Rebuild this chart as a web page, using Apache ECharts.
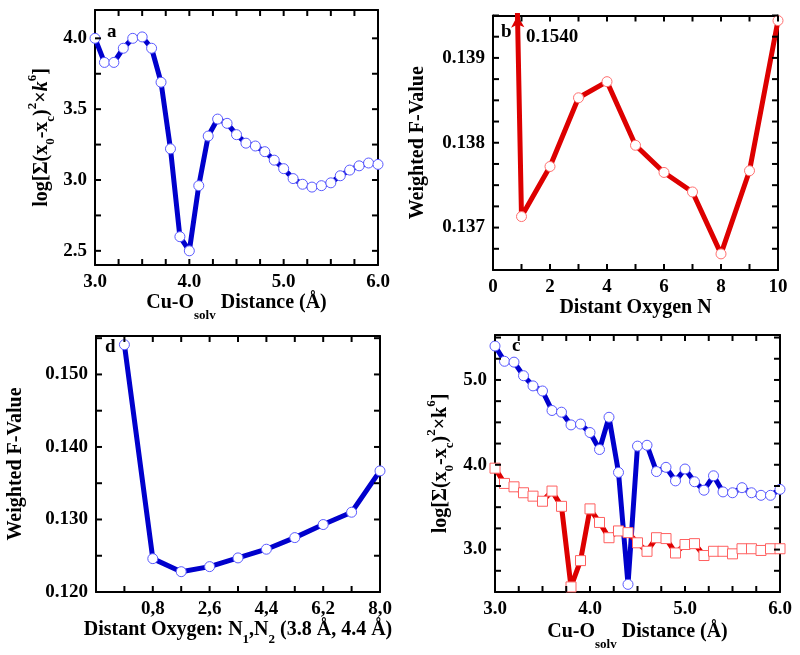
<!DOCTYPE html>
<html>
<head>
<meta charset="utf-8">
<script src="https://cdn.jsdelivr.net/npm/echarts@6/dist/echarts.min.js"></script>
<style>html,body{margin:0;padding:0;background:#fff}#c{width:800px;height:655px}</style>
</head>
<body>
<div id="c"></div>
<script>
// ---------- data ----------
const distA = [3.0,3.1,3.2,3.3,3.4,3.5,3.6,3.7,3.8,3.9,4.0,4.1,4.2,4.3,4.4,4.5,4.6,4.7,4.8,4.9,5.0,5.1,5.2,5.3,5.4,5.5,5.6,5.7,5.8,5.9,6.0];
const logA  = [4.00,3.83,3.83,3.93,4.00,4.01,3.93,3.69,3.22,2.60,2.50,2.96,3.31,3.43,3.40,3.32,3.26,3.24,3.20,3.14,3.08,3.01,2.97,2.95,2.96,2.98,3.03,3.07,3.10,3.12,3.11];

const nB = [0,1,2,3,4,5,6,7,8,9,10];
const fB = [0.1540,0.13713,0.13772,0.13853,0.13872,0.13797,0.13765,0.13742,0.13669,0.13767,0.13944];

const nD = [-0.1,0.8,1.7,2.6,3.5,4.4,5.3,6.2,7.1,8.0];
const fD = [0.1541,0.1246,0.1228,0.1235,0.1247,0.1259,0.1275,0.1293,0.1310,0.1367];

const distC = [3.0,3.1,3.2,3.3,3.4,3.5,3.6,3.7,3.8,3.9,4.0,4.1,4.2,4.3,4.4,4.5,4.6,4.7,4.8,4.9,5.0,5.1,5.2,5.3,5.4,5.5,5.6,5.7,5.8,5.9,6.0];
const logCBlue = [5.40,5.22,5.21,5.05,4.93,4.87,4.64,4.62,4.47,4.48,4.38,4.18,4.56,3.91,2.59,4.22,4.23,3.92,3.97,3.81,3.95,3.80,3.70,3.87,3.68,3.67,3.73,3.67,3.64,3.64,3.71];
const logCRed  = [3.96,3.78,3.74,3.67,3.63,3.57,3.69,3.51,2.56,2.87,3.48,3.32,3.14,3.22,3.20,3.08,2.98,3.14,3.13,2.96,3.06,3.07,2.93,2.98,2.98,2.95,3.01,3.01,2.99,3.01,3.01];

// tick labels
const labA_x = [3.0,4.0,5.0,6.0];
const labA_y = [2.5,3.0,3.5,4.0];
const labB_x = [0,2,4,6,8,10];
const labB_y = [0.137,0.138,0.139];
const labD_x = [0.8,2.6,4.4,6.2,8.0];
const labD_y = [0.120,0.130,0.140,0.150];
const labC_x = [3.0,4.0,5.0,6.0];
const labC_y = [3.0,4.0,5.0];

// ---------- helpers ----------
const FONT = "'Liberation Serif','Times New Roman',Times,serif";
function steps(a, b, s) { const out = []; const n = Math.round((b - a) / s); for (let i = 0; i <= n; i++) out.push(+(a + i * s).toFixed(6)); return out; }

const TICKS = [
  { x: steps(3.0, 6.0, 0.25), y: steps(2.5, 4.0, 0.25) },
  { x: steps(0, 10, 1), y: steps(0.1365, 0.1395, 0.00025) },
  { x: steps(-1.0, 8.0, 0.9), y: steps(0.120, 0.155, 0.005) },
  { x: steps(3.0, 6.0, 0.25), y: steps(2.5, 5.5, 0.25) }
];

const RANGES = [
  { x: [3.0, 6.0], y: [2.4, 4.2] },        // a
  { x: [0, 10], y: [0.1365, 0.1395] },     // b
  { x: [-1.0, 8.0], y: [0.120, 0.1553] },  // d
  { x: [3.0, 6.0], y: [2.5, 5.53] }        // c
];

function nameStyle(L) {
  return {
    fontFamily: FONT, fontSize: 20, fontWeight: 'bold', color: '#000',
    rich: {
      m:   { fontFamily: FONT, fontSize: 20, fontWeight: 'bold', color: '#000', lineHeight: L },
      it:  { fontFamily: FONT, fontSize: 20, fontWeight: 'bold', fontStyle: 'italic', color: '#000', lineHeight: L },
      sub: { fontFamily: FONT, fontSize: 13, fontWeight: 'bold', color: '#000', lineHeight: 13, verticalAlign: 'bottom' },
      sup: { fontFamily: FONT, fontSize: 13, fontWeight: 'bold', color: '#000', lineHeight: 13, verticalAlign: 'top' }
    }
  };
}

function axis(grid, pos, range, labels, fmt, showLabel, name, nameGap, L) {
  const a = {
    type: 'value', gridIndex: grid, position: pos, min: range[0], max: range[1],
    axisLine: { show: true, onZero: false, lineStyle: { color: '#000', width: 2 } },
    axisTick: { show: false },
    axisLabel: { show: showLabel, customValues: labels, formatter: fmt, fontFamily: FONT, fontSize: 19, fontWeight: 'bold', color: '#000', margin: 8 },
    splitLine: { show: false }
  };
  if (name) {
    a.name = name; a.nameLocation = 'middle'; a.nameGap = nameGap;
    a.nameTextStyle = nameStyle(L);
    if (pos === 'left') a.nameRotate = 90;
  }
  return a;
}
const f1 = v => v.toFixed(1);
const f3 = v => v.toFixed(3);
const fi = v => String(Math.round(v));
const fc = v => v.toFixed(1).replace('.', ',');

const grids = [
  { left: 95,  top: 10,  width: 283, height: 255 },   // a
  { left: 493, top: 15.5, width: 285, height: 254.5 }, // b
  { left: 96,  top: 336, width: 284, height: 256 },   // d
  { left: 495, top: 335, width: 285, height: 257 }    // c
];

const yTitleA = '{m|log[Σ(x}{sub|0}{m|-x}{sub|c}{m|)}{sup|2}{m|×}{it|k}{sup|6}{m|]}';
const yTitleC = '{m|log[Σ(x}{sub|0}{m|-x}{sub|c}{m|)}{sup|2}{m|×k}{sup|6}{m|]}';
const xTitleCu = '{m|Cu-O}{sub|solv}{m| Distance (Å)}';
const xTitleD = '{m|Distant Oxygen: N}{sub|1}{m|,N}{sub|2}{m| (3.8 Å, 4.4 Å)}';

const xAxes = [
  axis(0, 'bottom', RANGES[0].x, labA_x, f1, true, xTitleCu, 17, 39),
  axis(1, 'bottom', RANGES[1].x, labB_x, fi, true, '{m|Distant Oxygen N}', 25, 20),
  axis(2, 'bottom', RANGES[2].x, labD_x, fc, true, xTitleD, 19.5, 33),
  axis(3, 'bottom', RANGES[3].x, labC_x, f1, true, xTitleCu, 20, 39),
  axis(0, 'top', RANGES[0].x, labA_x, f1, false),
  axis(1, 'top', RANGES[1].x, labB_x, fi, false),
  axis(2, 'top', RANGES[2].x, labD_x, fc, false),
  axis(3, 'top', RANGES[3].x, labC_x, f1, false)
];
const yAxes = [
  axis(0, 'left', RANGES[0].y, labA_y, f1, true, yTitleA, 38, 31),
  axis(1, 'left', RANGES[1].y, labB_y, f3, true, '{m|Weighted F-Value}', 65, 20),
  axis(2, 'left', RANGES[2].y, labD_y, f3, true, '{m|Weighted F-Value}', 70, 20),
  axis(3, 'left', RANGES[3].y, labC_y, f1, true, yTitleC, 38.5, 31),
  axis(0, 'right', RANGES[0].y, labA_y, f1, false),
  axis(1, 'right', RANGES[1].y, labB_y, f3, false),
  axis(2, 'right', RANGES[2].y, labD_y, f3, false),
  axis(3, 'right', RANGES[3].y, labC_y, f1, false)
];

const BLUE = '#0000cc', RED = '#dd0000';
function lineSeries(xi, xs, ys, color, border, symbol, size, width, extra) {
  return Object.assign({
    type: 'line', xAxisIndex: xi, yAxisIndex: xi,
    data: xs.map((x, i) => [x, ys[i]]),
    symbol: symbol, symbolSize: size, showSymbol: true, showAllSymbol: true,
    lineStyle: { color: color, width: width },
    itemStyle: { color: '#fff', borderColor: border, borderWidth: 1 },
    clip: true, silent: true, z: 3
  }, extra || {});
}

// arrow for the off-scale point of panel b (derived from data)
const yTopB = RANGES[1].y[1], yStartB = 0.1391;
const slopeB = (fB[0] - fB[1]) / (nB[1] - nB[0]);
const xCross = nB[0] + (fB[0] - yTopB) / slopeB;
const xStart = nB[0] + (fB[0] - yStartB) / slopeB;

const labels = [
  { type: 'text', left: 107, top: 23, style: { text: 'a', font: 'bold 19px ' + FONT, fill: '#000' } },
  { type: 'text', left: 501, top: 23, style: { text: 'b', font: 'bold 19px ' + FONT, fill: '#000' } },
  { type: 'text', left: 526, top: 28, style: { text: fB[0].toFixed(4), font: 'bold 19px ' + FONT, fill: '#000' } },
  { type: 'text', left: 105, top: 338, style: { text: 'd', font: 'bold 19px ' + FONT, fill: '#000' } },
  { type: 'text', left: 512, top: 337, style: { text: 'c', font: 'bold 19px ' + FONT, fill: '#000' } }
];

const option = {
  animation: false,
  backgroundColor: '#fff',
  grid: grids,
  xAxis: xAxes,
  yAxis: yAxes,
  series: [
    lineSeries(0, distA, logA, BLUE, '#5a5aff', 'circle', 10, 5),
    lineSeries(1, nB, fB, RED, '#ff7070', 'circle', 10, 5, {
      markLine: {
        silent: true, symbol: ['none', 'arrow'], symbolSize: [10, 12],
        label: { show: false },
        lineStyle: { color: RED, width: 2.5, type: 'solid' },
        data: [[{ coord: [xStart, yStartB] }, { coord: [xCross, yTopB] }]]
      }
    }),
    lineSeries(2, nD, fD, BLUE, '#5a5aff', 'circle', 10, 5),
    lineSeries(3, distC, logCBlue, BLUE, '#5a5aff', 'circle', 10, 5),
    lineSeries(3, distC, logCRed, RED, '#ff6060', 'rect', 10, 5)
  ],
  graphic: { elements: labels }
};
const chart = echarts.init(document.getElementById('c'), null, { renderer: 'canvas' });
chart.setOption(option);

// inward tick marks on all four sides, positioned through each panel's axes
const TL = 6, TW = 2;
const tickEls = [];
RANGES.forEach(function (r, gi) {
  const finder = { xAxisIndex: gi, yAxisIndex: gi };
  TICKS[gi].x.forEach(function (v) {
    const b = chart.convertToPixel(finder, [v, r.y[0]]);
    const t = chart.convertToPixel(finder, [v, r.y[1]]);
    tickEls.push({ type: 'rect', z: 50, shape: { x: b[0] - TW / 2, y: b[1] - TL, width: TW, height: TL }, style: { fill: '#000' } });
    tickEls.push({ type: 'rect', z: 50, shape: { x: t[0] - TW / 2, y: t[1], width: TW, height: TL }, style: { fill: '#000' } });
  });
  TICKS[gi].y.forEach(function (v) {
    const l = chart.convertToPixel(finder, [r.x[0], v]);
    const rr = chart.convertToPixel(finder, [r.x[1], v]);
    tickEls.push({ type: 'rect', z: 50, shape: { x: l[0], y: l[1] - TW / 2, width: TL, height: TW }, style: { fill: '#000' } });
    tickEls.push({ type: 'rect', z: 50, shape: { x: rr[0] - TL, y: rr[1] - TW / 2, width: TL, height: TW }, style: { fill: '#000' } });
  });
});
chart.setOption({ graphic: { elements: labels.concat(tickEls) } });
</script>
</body>
</html>
